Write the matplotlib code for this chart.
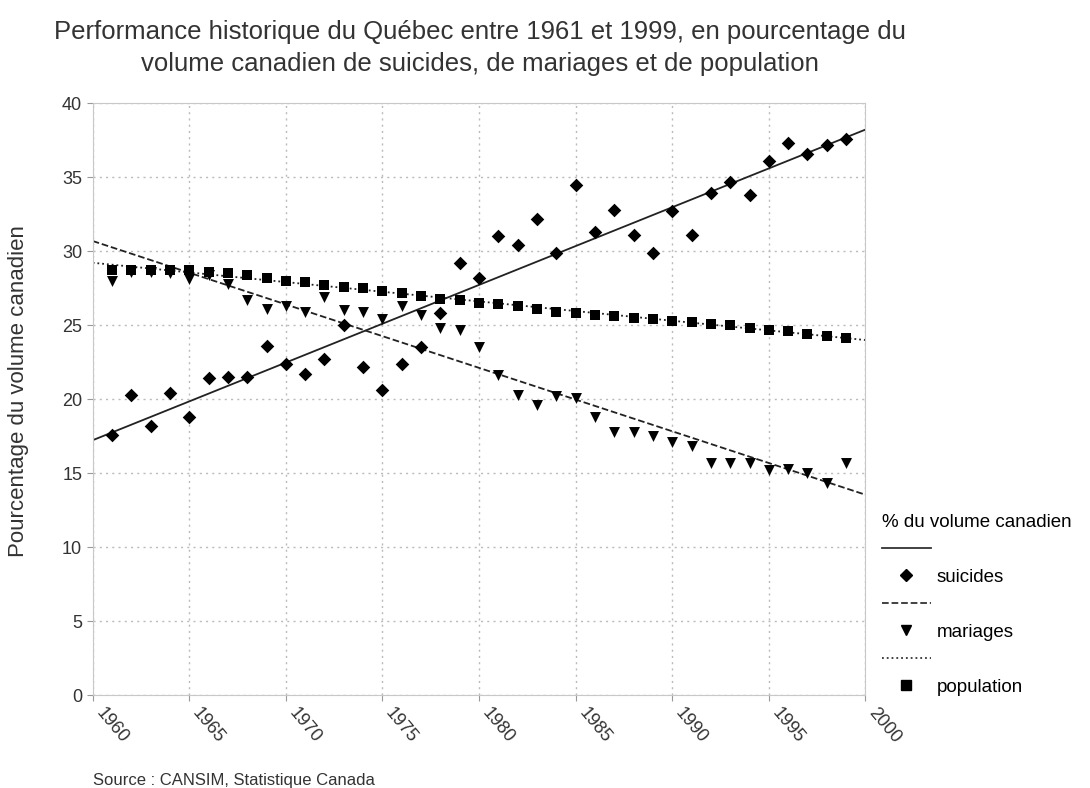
import numpy as np
import matplotlib
matplotlib.use("Agg")
import matplotlib.pyplot as plt
from matplotlib.lines import Line2D
from matplotlib.legend_handler import HandlerLine2D
from matplotlib.transforms import ScaledTranslation

plt.rcParams["font.family"] = ["Liberation Sans", "DejaVu Sans"]

years = list(range(1961, 2000))

# % of Canadian volume
suicides = [17.6, 20.3, 18.2, 20.4, 18.8, 21.4, 21.5, 21.5, 23.6, 22.4,
            21.7, 22.7, 25.0, 22.2, 20.6, 22.4, 23.5, 25.8, 29.2, 28.2,
            31.0, 30.4, 32.2, 29.9, 34.5, 31.3, 32.8, 31.1, 29.9, 32.7,
            31.1, 33.9, 34.7, 33.8, 36.1, 37.3, 36.6, 37.2, 37.6]
mariages = [28.0, 28.6, 28.6, 28.5, 28.1, 28.4, 27.8, 26.7, 26.1, 26.3,
            25.9, 26.9, 26.0, 25.9, 25.4, 26.3, 25.7, 24.8, 24.7, 23.5,
            21.6, 20.3, 19.6, 20.2, 20.1, 18.8, 17.8, 17.8, 17.5, 17.1,
            16.8, 15.7, 15.7, 15.7, 15.2, 15.3, 15.0, 14.3, 15.7]
population = [28.7, 28.7, 28.7, 28.7, 28.7, 28.6, 28.5, 28.4, 28.2, 28.0,
              27.9, 27.7, 27.6, 27.5, 27.3, 27.2, 27.0, 26.8, 26.7, 26.5,
              26.4, 26.3, 26.1, 25.9, 25.8, 25.7, 25.6, 25.5, 25.4, 25.3,
              25.2, 25.1, 25.0, 24.8, 24.7, 24.6, 24.4, 24.3, 24.1]

series = [
    ("suicides", suicides, "D", "-", 48),
    ("mariages", mariages, "v", "--", 62),
    ("population", population, "s", ":", 48),
]


class LeftMarkerHandler(HandlerLine2D):
    # put the legend marker near the left end of the handle box
    def get_xdata(self, legend, xdescent, ydescent, width, height, fontsize):
        xdata, _ = super().get_xdata(legend, xdescent, ydescent, width,
                                     height, fontsize)
        return xdata, np.array([-xdescent + 0.33 * width])


fig = plt.figure(figsize=(10.9, 7.88), dpi=100)
ax = fig.add_axes([0.085, 0.118, 0.709, 0.751])

x = np.array(years)
xfit = np.array([1960, 2000])
handles, labels = [], []
hmap = {}
for name, vals, marker, ls, size in series:
    ax.scatter(x, vals, marker=marker, s=size, color="black", zorder=3,
               linewidths=0)
    slope, icpt = np.polyfit(x, vals, 1)
    ax.plot(xfit, slope * xfit + icpt, color="#222222", lw=1.3,
            linestyle=ls, zorder=2)
    handles.append(Line2D([], [], color="#333333", lw=1.3, linestyle=ls))
    labels.append(" ")
    mh = Line2D([], [], color="black", marker=marker, ms=6.5,
                linestyle="none")
    hmap[mh] = LeftMarkerHandler(numpoints=1)
    handles.append(mh)
    labels.append(name)

ax.set_xlim(1960, 2000)
ax.set_ylim(0, 40)
ax.set_xticks(range(1960, 2001, 5))
ax.set_yticks(range(0, 41, 5))
ax.grid(True, color="#bbbbbb", linestyle=(0, (1.5, 3)), lw=1)
ax.set_axisbelow(True)
for sp in ax.spines.values():
    sp.set_color("#c8c8c8")
ax.tick_params(axis="both", color="#999999", length=4, labelsize=13,
               labelcolor="#333333")
ax.tick_params(axis="x", pad=7)
shift = ScaledTranslation(6 / 100, 0, fig.dpi_scale_trans)
for lbl in ax.get_xticklabels():
    lbl.set_rotation(-50)
    lbl.set_ha("left")
    lbl.set_va("center")
    lbl.set_rotation_mode("anchor")
    lbl.set_transform(lbl.get_transform() + shift)

ax.set_ylabel("Pourcentage du volume canadien", fontsize=16,
              color="#333333")
ax.yaxis.set_label_coords(-0.082, 0.513)

fig.suptitle("Performance historique du Québec entre 1961 et 1999, en pourcentage du\n"
             "volume canadien de suicides, de mariages et de population",
             x=0.44, y=0.975, fontsize=18.5, color="#333333", linespacing=1.45)

fig.legend(handles, labels, title="% du volume canadien",
           handler_map=hmap,
           loc="upper left", bbox_to_anchor=(882 / 1090, 1 - 514 / 788),
           frameon=False, fontsize=13.5, title_fontsize=13.5,
           handlelength=2.6, handletextpad=0.3, labelspacing=0.55,
           alignment="left", borderpad=0, borderaxespad=0)

fig.text(0.085, 0.004, "Source : CANSIM, Statistique Canada", fontsize=12,
         color="#333333")

fig.savefig("out.png", dpi=100)
